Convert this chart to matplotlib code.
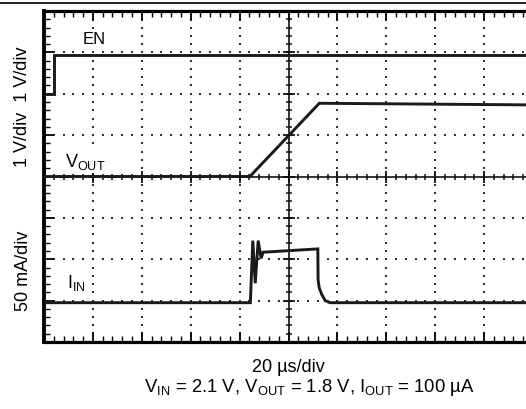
import numpy as np
import matplotlib
matplotlib.use("Agg")
import matplotlib.pyplot as plt
from matplotlib.lines import Line2D
from matplotlib.ticker import MultipleLocator

plt.rcParams['font.family'] = ['Liberation Sans', 'DejaVu Sans']
plt.rcParams['mathtext.fontset'] = 'custom'
plt.rcParams['mathtext.rm'] = 'Liberation Sans'
plt.rcParams['mathtext.it'] = 'Liberation Sans:italic'

# traces, in screen divisions (x: 0-10, y: 0-8)
en_t = [0, 0.2, 0.2, 10]
en_v = [6.0, 6.0, 6.93, 6.93]

vout_t = [0, 4.21, 5.63, 10]
vout_v = [4.0, 4.0, 5.77, 5.73]

iin_t = [0, 4.22, 4.27, 4.32, 4.38, 4.44, 4.48, 5.60, 5.605, 5.63, 5.68, 5.75, 5.85, 10]
iin_v = [0.95, 0.95, 2.45, 1.42, 2.45, 2.02, 2.17, 2.25, 1.5, 1.3, 1.15, 1.0, 0.95, 0.95]

W, H = 526, 409
fig = plt.figure(figsize=(W / 100, H / 100), dpi=100)
ax = fig.add_axes([44 / W, (H - 342) / H, 489 / W, 331 / H])
ax.set_xlim(0, 10)
ax.set_ylim(0, 8)

# dotted graticule
xs = np.arange(0, 10.01, 0.2)
ys = np.arange(0, 8.01, 0.2)
for gx in [1, 2, 3, 4, 6, 7, 8, 9]:
    ax.scatter(np.full(len(ys), gx), ys, s=0.7, marker='s', color='#333333', lw=0, zorder=1)
for gy in [1, 2, 3, 5, 6, 7]:
    ax.scatter(xs, np.full(len(xs), gy), s=0.7, marker='s', color='#333333', lw=0, zorder=1)

# center axes with ticks
ax.axvline(5, color='#111111', lw=1.2, zorder=2)
ax.axhline(4, color='#111111', lw=1.2, zorder=2)
ax.plot(np.full(len(ys), 5), ys, ls='none', marker='_', ms=5, mew=1.1, color='#111111', zorder=2)
ax.plot(xs, np.full(len(xs), 4), ls='none', marker='|', ms=5, mew=1.1, color='#111111', zorder=2)
ax.plot(np.full(9, 5), np.arange(0, 9), ls='none', marker='_', ms=8, mew=1.3, color='#111111', zorder=2)
ax.plot(np.arange(0, 11), np.full(11, 4), ls='none', marker='|', ms=8, mew=1.3, color='#111111', zorder=2)

# traces
for t, v in [(en_t, en_v), (vout_t, vout_v), (iin_t, iin_v)]:
    ax.plot(t, v, color='#1a1a1a', lw=2.1, solid_joinstyle='miter', zorder=5)

# frame
for side in ['left', 'top', 'bottom']:
    ax.spines[side].set_linewidth(2.3)
ax.spines['left'].set_linewidth(2.8)
ax.spines['right'].set_visible(False)
ax.xaxis.set_major_locator(MultipleLocator(1))
ax.xaxis.set_minor_locator(MultipleLocator(0.2))
ax.yaxis.set_major_locator(MultipleLocator(1))
ax.yaxis.set_minor_locator(MultipleLocator(0.2))
ax.tick_params(which='both', direction='in', top=True, bottom=True, left=True, right=False,
               labelbottom=False, labelleft=False)
ax.tick_params(which='major', length=7, width=1.3)
ax.tick_params(which='minor', length=4.5, width=1.0)

# channel labels
box = dict(facecolor='white', edgecolor='none', pad=1.0)
ax.text(0.78, 7.32, "EN", fontsize=12, va='center', ha='left', zorder=4, bbox=box)
ax.text(0.43, 4.23, r"V$_{\mathrm{OUT}}$", fontsize=13, va='baseline', ha='left', zorder=4, bbox=box)
ax.text(0.47, 1.3, r"I$_{\mathrm{IN}}$", fontsize=13, va='baseline', ha='left')

fig.text(23 / W, 1 - 106.7 / H, "1 V/div  1 V/div", rotation=90, fontsize=13, ha='center', va='center')
fig.text(23 / W, 1 - 271 / H, "50 mA/div", rotation=90, fontsize=13, ha='center', va='center')
fig.text(288 / W, 1 - 368 / H, "20 \u00b5s/div", fontsize=13, ha='center', va='center')
fig.text(309 / W, 1 - 388 / H,
         "V$_{\\mathrm{IN}}$ = 2.1 V, V$_{\\mathrm{OUT}}$ = 1.8 V, I$_{\\mathrm{OUT}}$ = 100 \u00b5A",
         fontsize=13.3, ha='center', va='center')

fig.add_artist(Line2D([0, 1], [1 - 2.5 / H] * 2, color='black', lw=1.2))

fig.savefig("out.png", dpi=100)
